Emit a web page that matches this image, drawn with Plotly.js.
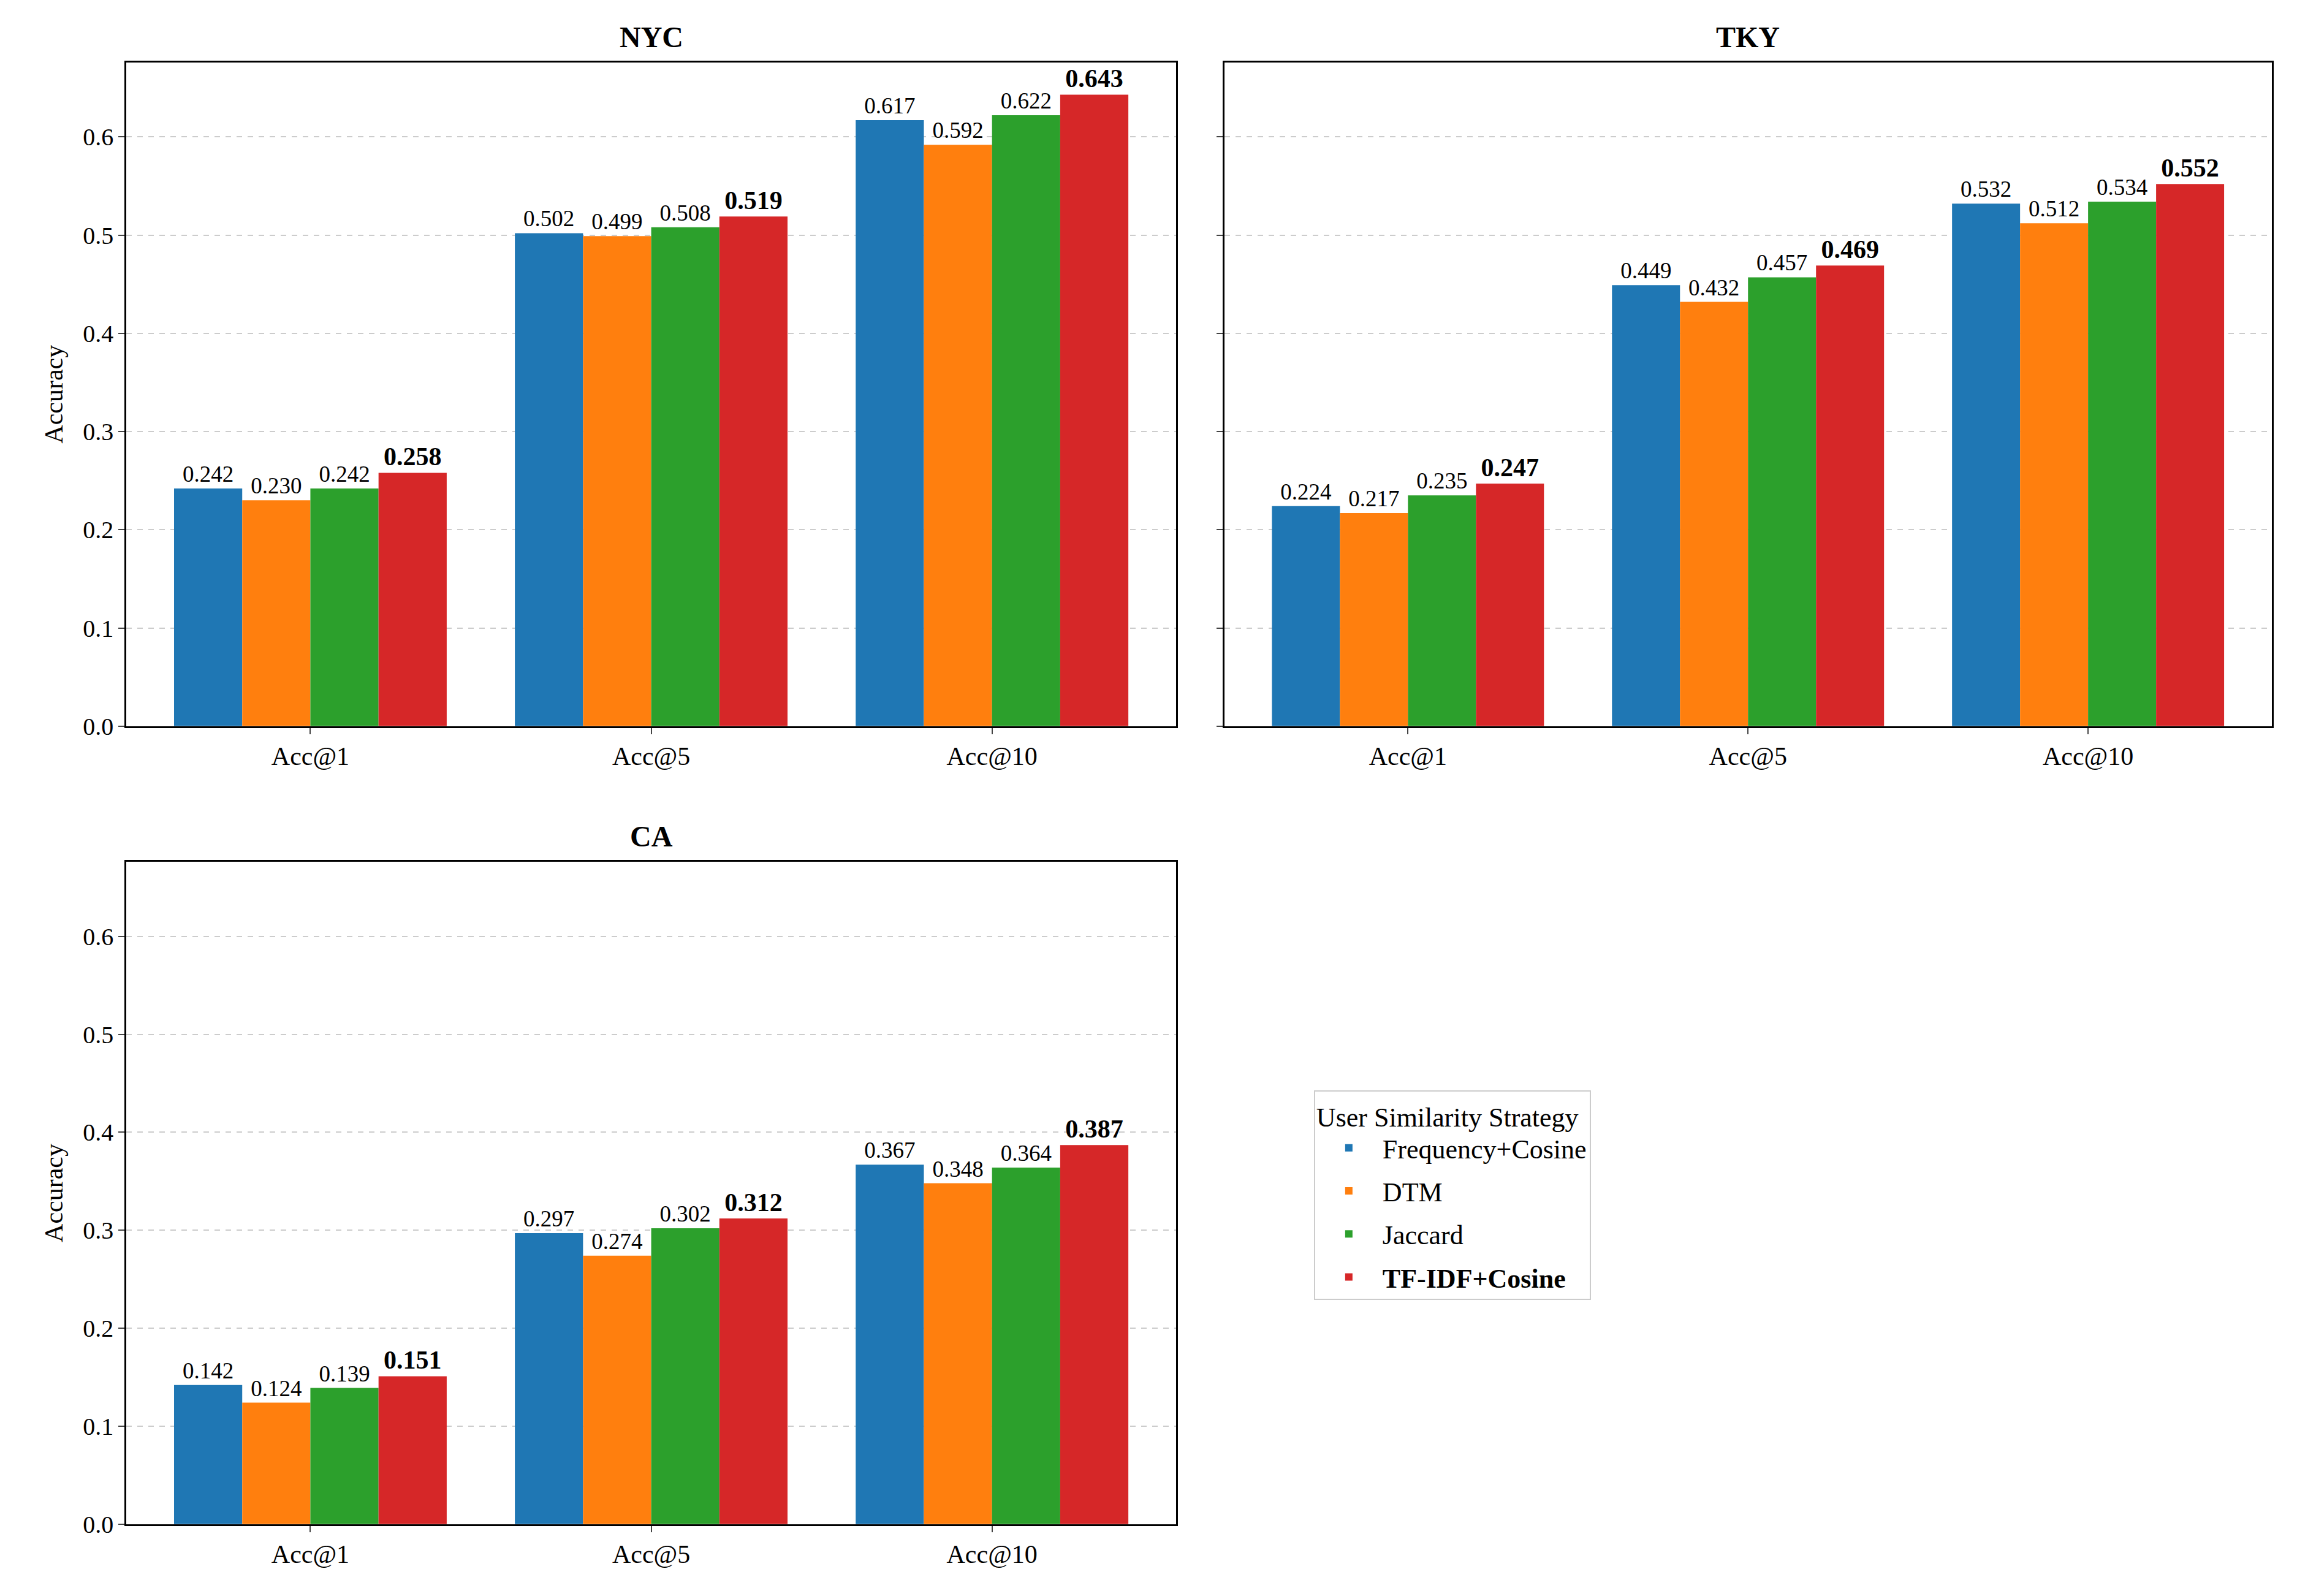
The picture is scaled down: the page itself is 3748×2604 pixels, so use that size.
<!DOCTYPE html>
<html>
<head>
<meta charset="utf-8">
<script src="https://cdn.plot.ly/plotly-3.0.1.min.js"></script>
<style>body{margin:0;background:#fff}#plot{width:3748px;height:2604px}</style>
</head>
<body>
<div id="plot"></div>
<script>
//Chart values
var categories = ['Acc@1', 'Acc@5', 'Acc@10'];
var methods = ['Frequency+Cosine', 'DTM', 'Jaccard', 'TF-IDF+Cosine'];
var colors = ['#1f77b4', '#ff7f0e', '#2ca02c', '#d62728'];
var nycValues = [[0.242, 0.502, 0.617], [0.230, 0.499, 0.592], [0.242, 0.508, 0.622], [0.258, 0.519, 0.643]];
var tkyValues = [[0.224, 0.449, 0.532], [0.217, 0.432, 0.512], [0.235, 0.457, 0.534], [0.247, 0.469, 0.552]];
var caValues = [[0.142, 0.297, 0.367], [0.124, 0.274, 0.348], [0.139, 0.302, 0.364], [0.151, 0.312, 0.387]];
var panels = [['NYC', nycValues, 'x', 'y'], ['TKY', tkyValues, 'x2', 'y2'], ['CA', caValues, 'x3', 'y3']];

var font = 'Liberation Serif, Times New Roman, serif';
var traces = [];
panels.forEach(function(p, pi) {
    p[1].forEach(function(vals, mi) {
        var best = mi === 3;
        traces.push({
            type: 'bar', x: categories, y: vals, xaxis: p[2], yaxis: p[3],
            name: best ? '<b>' + methods[mi] + '</b>' : methods[mi],
            legendgroup: methods[mi], showlegend: pi === 0,
            marker: {color: colors[mi]},
            text: vals.map(function(v) { return best ? '<b>' + v.toFixed(3) + '</b>' : v.toFixed(3); }),
            textposition: 'outside', cliponaxis: false,
            textfont: {family: font, size: best ? 42 : 37, color: '#000'},
            hoverinfo: 'y'
        });
    });
});

function xAxis(dom, anchor) {
    return {domain: dom, anchor: anchor, range: [-0.54, 2.54], showline: true, mirror: true,
        linecolor: '#000', linewidth: 3, ticks: 'outside', ticklen: 10, tickwidth: 2,
        tickfont: {family: font, size: 42, color: '#000'}};
}
function yAxis(dom, anchor, labels) {
    return {domain: dom, anchor: anchor, range: [0, 0.676], dtick: 0.1, tickformat: '.1f',
        showline: true, mirror: true, linecolor: '#000', linewidth: 3, ticks: 'outside',
        ticklen: 10, tickwidth: 2, showticklabels: labels, zeroline: false,
        showgrid: true, gridcolor: '#cccccc', griddash: 'dash', gridwidth: 2,
        tickfont: {family: font, size: 40, color: '#000'},
        title: labels ? {text: 'Accuracy', font: {family: font, size: 42, color: '#000'}, standoff: 20} : undefined};
}

var layout = {
    barmode: 'group', bargap: 0.2, bargroupgap: 0,
    paper_bgcolor: '#fff', plot_bgcolor: '#fff',
    margin: {l: 0, r: 0, t: 0, b: 0},
    font: {family: font, color: '#000'},
    xaxis: xAxis([0.055, 0.512], 'y'),
    yaxis: yAxis([0.545, 0.961], 'x', true),
    xaxis2: xAxis([0.533, 0.989], 'y2'),
    yaxis2: yAxis([0.545, 0.961], 'x2', false),
    xaxis3: xAxis([0.055, 0.512], 'y3'),
    yaxis3: yAxis([0.045, 0.460], 'x3', true),
    legend: {x: 0.572, y: 0.317, xanchor: 'left', yanchor: 'top', bordercolor: '#cccccc', borderwidth: 2,
        bgcolor: '#fff', font: {family: font, size: 44, color: '#000'},
        title: {text: 'User Similarity Strategy', font: {family: font, size: 44}, side: 'top'},
        itemwidth: 100},
    annotations: [
        {text: '<b>NYC</b>', x: 0.2835, y: 0.966, xref: 'paper', yref: 'paper', xanchor: 'center', yanchor: 'bottom', showarrow: false, font: {family: font, size: 48}},
        {text: '<b>TKY</b>', x: 0.761, y: 0.966, xref: 'paper', yref: 'paper', xanchor: 'center', yanchor: 'bottom', showarrow: false, font: {family: font, size: 48}},
        {text: '<b>CA</b>', x: 0.2835, y: 0.465, xref: 'paper', yref: 'paper', xanchor: 'center', yanchor: 'bottom', showarrow: false, font: {family: font, size: 48}}
    ]
};

Plotly.newPlot('plot', traces, layout, {displayModeBar: false});
</script>
</body>
</html>
